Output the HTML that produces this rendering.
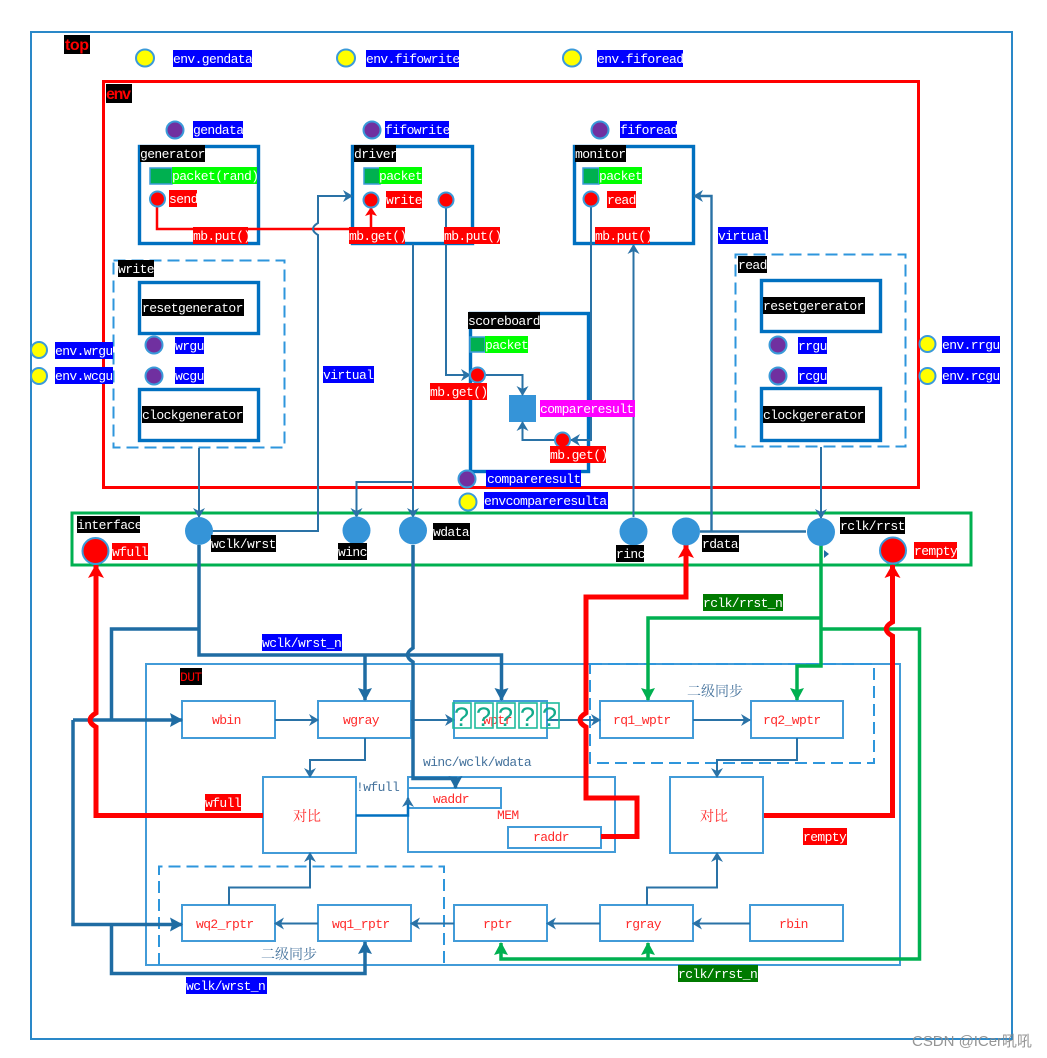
<!DOCTYPE html>
<html>
<head>
<meta charset="utf-8">
<style>
html,body{margin:0;padding:0;background:#fff}
svg{display:block}
text{font-family:"Liberation Mono","Noto Serif CJK SC",monospace;font-size:13px;letter-spacing:-0.6px;white-space:pre}
.cj{font-family:"Liberation Serif","Noto Serif CJK SC",serif;font-size:14px;letter-spacing:0}
.hd{font-family:"Liberation Sans",sans-serif;font-size:16px;font-weight:bold;letter-spacing:0;fill:#ff0000}
.w{fill:#fff}
.r{fill:#ff2a2a}
.s{fill:#44729c}
.bb{fill:#0000ff}.bk{fill:#000}.rd{fill:#ff0000}.gr{fill:#00ff00}.dg{fill:#007a00}.mg{fill:#ff00ff}
.box{fill:#fff;stroke:#0070c0;stroke-width:3.4}
.nb{fill:#fff;stroke:#429bd8;stroke-width:2}
.nf{fill:none;stroke:#429bd8;stroke-width:2}
.ds{fill:none;stroke:#2e96dc;stroke-width:2;stroke-dasharray:12 6}
.ln{fill:none;stroke:#2a72a6;stroke-width:2}
.th{fill:none;stroke:#1f6ca3;stroke-width:3.5}
.rl{fill:none;stroke:#ff0000;stroke-width:5}
.gl{fill:none;stroke:#00b050;stroke-width:3.5}
.pu{fill:#7030a0;stroke:#3a9ad9;stroke-width:2}
.ye{fill:#ffff00;stroke:#3a9ad9;stroke-width:2}
.re{fill:#ff0000;stroke:#3a9ad9;stroke-width:2}
.bu{fill:#3594d8}
.q{fill:none;stroke:#1fbb9c;stroke-width:1.6}
.qt{fill:#12ab8b;font-family:"Liberation Sans",sans-serif;font-size:27px;letter-spacing:0}
</style>
</head>
<body>
<svg width="1047" height="1058" viewBox="0 0 1047 1058" xmlns="http://www.w3.org/2000/svg">
<defs>
<marker id="a" markerUnits="userSpaceOnUse" markerWidth="14" markerHeight="14" refX="10" refY="7" orient="auto"><path d="M1,1 L11,7 L1,13 L4,7Z" fill="#2a72a6"/></marker>
<marker id="A" markerUnits="userSpaceOnUse" markerWidth="16" markerHeight="18" refX="13" refY="9" orient="auto"><path d="M1,2 L14,9 L1,16 L3,9Z" fill="#1f6ca3"/></marker>
<marker id="R" markerUnits="userSpaceOnUse" markerWidth="18" markerHeight="20" refX="14" refY="10" orient="auto"><path d="M1,2 L15,10 L1,18 L4,10Z" fill="#ff0000"/></marker>
<marker id="r" markerUnits="userSpaceOnUse" markerWidth="12" markerHeight="14" refX="9" refY="7" orient="auto"><path d="M1,1 L10,7 L1,13 L3,7Z" fill="#ff0000"/></marker>
<marker id="G" markerUnits="userSpaceOnUse" markerWidth="16" markerHeight="18" refX="13" refY="9" orient="auto"><path d="M1,2 L14,9 L1,16 L3,9Z" fill="#00b050"/></marker>
</defs>
<rect width="1047" height="1058" fill="#fff"/>

<!-- containers -->
<rect x="31" y="32" width="981" height="1007" fill="none" stroke="#2a88c8" stroke-width="2"/>
<rect x="103.500" y="81.500" width="815" height="406" fill="none" stroke="#ff0000" stroke-width="3"/>
<rect x="72" y="513" width="899" height="52" fill="none" stroke="#00b050" stroke-width="3"/>
<rect x="146" y="664" width="754" height="301" class="nf"/>

<!-- env boxes -->
<rect x="139.500" y="146.500" width="119" height="97" class="box"/>
<rect x="352.500" y="146.500" width="120" height="97" class="box"/>
<rect x="574.500" y="146.500" width="119" height="97" class="box"/>
<rect x="113.500" y="260.500" width="171" height="187" class="ds"/>
<rect x="139.500" y="282.500" width="119" height="51" class="box"/>
<rect x="139.500" y="389.500" width="119" height="51" class="box"/>
<rect x="735.500" y="254.500" width="170" height="192" class="ds"/>
<rect x="761.500" y="280.500" width="119" height="51" class="box"/>
<rect x="761.500" y="388.500" width="119" height="52" class="box"/>
<rect x="470.500" y="313.500" width="118" height="158" class="box"/>
<rect x="509" y="395" width="27" height="27" class="bu"/>

<!-- DUT boxes -->
<rect x="590" y="664" width="284" height="99" class="ds"/>
<path d="M159,965 V866.500 H444 V965" class="ds"/>
<rect x="182" y="701" width="93" height="37" class="nb"/>
<rect x="318" y="701" width="93" height="37" class="nb"/>
<rect x="454" y="701" width="93" height="37" class="nb"/>
<rect x="600" y="701" width="93" height="37" class="nb"/>
<rect x="751" y="701" width="92" height="37" class="nb"/>
<rect x="263" y="777" width="93" height="76" class="nb"/>
<rect x="670" y="777" width="93" height="76" class="nb"/>
<rect x="408" y="777" width="207" height="75" class="nb"/>
<rect x="408" y="788" width="93" height="20" class="nb"/>
<rect x="508" y="827" width="93" height="21" class="nb"/>
<rect x="182" y="905" width="93" height="36" class="nb"/>
<rect x="318" y="905" width="93" height="36" class="nb"/>
<rect x="454" y="905" width="93" height="36" class="nb"/>
<rect x="600" y="905" width="93" height="36" class="nb"/>
<rect x="750" y="905" width="93" height="36" class="nb"/>

<!-- env connectors -->
<path d="M157,207 V229 H371 V208" fill="none" stroke="#ff0000" stroke-width="2.500" marker-end="url(#r)"/>
<path d="M199,448 V517" class="ln" marker-end="url(#a)"/>
<path d="M212,531 H318 V235 Q308,229 318,223 V196 H352" class="ln" marker-end="url(#a)"/>
<path d="M413,244 V517" class="ln" marker-end="url(#a)"/>
<path d="M413,482 H356.500 V517" class="ln" marker-end="url(#a)"/>
<path d="M446,207 V375 H470" class="ln" marker-end="url(#a)"/>
<path d="M485,375 H522.500 V395" class="ln" marker-end="url(#a)"/>
<path d="M591,207 V440 H571" class="ln" marker-end="url(#a)"/>
<path d="M555,440 H522.500 V422" class="ln" marker-end="url(#a)"/>
<path d="M633.500,517 V245" class="ln" marker-end="url(#a)"/>
<path d="M700,531.500 H806 M711.500,531.500 V196 H694" class="ln" style="stroke-width:2.400" marker-end="url(#a)"/>
<path d="M821,447 V518" class="ln" marker-end="url(#a)"/>

<!-- DUT connectors -->
<path d="M275,720 H318" class="ln" marker-end="url(#a)"/>
<path d="M411,720 H454" class="ln" marker-end="url(#a)"/>
<path d="M547,720 H600" class="ln" marker-end="url(#a)"/>
<path d="M693,720 H750" class="ln" marker-end="url(#a)"/>
<path d="M365,738 V760 H310 V777" class="ln" marker-end="url(#a)"/>
<path d="M797,738 V760 H717 V777" class="ln" marker-end="url(#a)"/>
<path d="M229,905 V887.500 H310 V853" class="ln" marker-end="url(#a)"/>
<path d="M647,905 V887.500 H717 V853" class="ln" marker-end="url(#a)"/>
<path d="M750,923.500 H693" class="ln" marker-end="url(#a)"/>
<path d="M600,923.500 H547" class="ln" marker-end="url(#a)"/>
<path d="M454,923.500 H411" class="ln" marker-end="url(#a)"/>
<path d="M318,923.500 H275" class="ln" marker-end="url(#a)"/>
<path d="M356,815.500 H408 V798" fill="none" stroke="#0070c0" stroke-width="2.500" marker-end="url(#a)"/>

<path d="M199,545 V655 H501.500 V700" class="th" marker-end="url(#A)"/>
<path d="M365,655 V700" class="th" marker-end="url(#A)"/>
<path d="M199,629 H111.500 V720" class="th"/>
<path d="M73,720 H182" class="th" marker-end="url(#A)"/>
<path d="M73,720 V924.500 H182" class="th" marker-end="url(#A)"/>
<path d="M111.500,924.500 V973.500 H365 V942" class="th" marker-end="url(#A)"/>
<path d="M413,545 V648 Q402,655 413,662 V778.500 H455.500 V788" class="th" marker-end="url(#A)"/>

<path d="M821,545 V666 H797 V700" class="gl" marker-end="url(#G)"/>
<path d="M821,618 H648 V700" class="gl" marker-end="url(#G)"/>
<path d="M821,629 H919.500 V959 H501 V943" class="gl" marker-end="url(#G)"/>
<path d="M648,959 V943" class="gl" marker-end="url(#G)"/>

<path d="M263,815.500 H96 V727 Q84,720 96,713 V565" class="rl" marker-end="url(#R)"/>
<path d="M601,836.500 H637 V798 H586 V727 Q574,720 586,713 V597 H686 V545" class="rl" marker-end="url(#R)"/>
<path d="M764,815.500 H892.500 V636 Q880,629 892.500,622 V565" class="rl" marker-end="url(#R)"/>
<path d="M824,550 L829,554 L824,558Z" fill="#1f6ca3"/>

<!-- circles -->
<ellipse cx="145" cy="58" rx="9" ry="8.500" class="ye"/>
<ellipse cx="346" cy="58" rx="9" ry="8.500" class="ye"/>
<ellipse cx="572" cy="58" rx="9" ry="8.500" class="ye"/>
<circle cx="175" cy="130" r="8.500" class="pu"/>
<circle cx="372" cy="130" r="8.500" class="pu"/>
<circle cx="600" cy="130" r="8.500" class="pu"/>
<circle cx="157.500" cy="199" r="7.500" class="re"/>
<circle cx="371" cy="200" r="7.500" class="re"/>
<circle cx="446" cy="200" r="7.500" class="re"/>
<circle cx="591" cy="199" r="7.500" class="re"/>
<circle cx="154" cy="345" r="8.500" class="pu"/>
<circle cx="154" cy="376" r="8.500" class="pu"/>
<circle cx="39" cy="350" r="8" class="ye"/>
<circle cx="39" cy="376" r="8" class="ye"/>
<circle cx="778" cy="345" r="8.500" class="pu"/>
<circle cx="778" cy="376" r="8.500" class="pu"/>
<circle cx="927.500" cy="344" r="8" class="ye"/>
<circle cx="927.500" cy="376" r="8" class="ye"/>
<circle cx="477.500" cy="375" r="7.500" class="re"/>
<circle cx="562.500" cy="440" r="7.500" class="re"/>
<circle cx="467" cy="479" r="8.500" class="pu"/>
<circle cx="468" cy="502" r="8.500" class="ye"/>
<circle cx="199" cy="531" r="14" class="bu"/>
<circle cx="356.500" cy="530.500" r="14" class="bu"/>
<circle cx="413" cy="530.500" r="14" class="bu"/>
<circle cx="633.500" cy="531.500" r="14" class="bu"/>
<circle cx="686" cy="531.500" r="14" class="bu"/>
<circle cx="821" cy="532" r="14" class="bu"/>
<circle cx="95.500" cy="551" r="13" class="re"/>
<circle cx="893" cy="550.500" r="13" class="re"/>

<!-- packet squares -->
<rect x="150" y="168" width="22" height="16" fill="#00b050" stroke="#3a9ad9" stroke-width="1.500"/>
<rect x="364" y="168" width="16" height="16" fill="#00b050" stroke="#3a9ad9" stroke-width="1.500"/>
<rect x="583" y="168" width="16" height="16" fill="#00b050" stroke="#3a9ad9" stroke-width="1.500"/>
<rect x="470" y="337" width="15" height="15" fill="#00b050" stroke="#3a9ad9" stroke-width="1.500"/>

<!-- labels -->
<rect x="64" y="35" width="26" height="19" class="bk"/><text class="hd" x="65" y="50" textLength="24">top</text>
<rect x="106" y="84" width="26" height="19" class="bk"/><text class="hd" x="106" y="99" textLength="25">env</text>

<rect x="173" y="50" width="79" height="17" class="bb"/><text class="w" x="173" y="63">env.gendata</text>
<rect x="366" y="50" width="93" height="17" class="bb"/><text class="w" x="366" y="63">env.fifowrite</text>
<rect x="597" y="50" width="86" height="17" class="bb"/><text class="w" x="597" y="63">env.fiforead</text>
<rect x="193" y="121" width="50" height="17" class="bb"/><text class="w" x="193" y="134">gendata</text>
<rect x="385" y="121" width="64" height="17" class="bb"/><text class="w" x="385" y="134">fifowrite</text>
<rect x="620" y="121" width="57" height="17" class="bb"/><text class="w" x="620" y="134">fiforead</text>

<rect x="140" y="145" width="65" height="17" class="bk"/><text class="w" x="140" y="158">generator</text>
<rect x="354" y="145" width="42" height="17" class="bk"/><text class="w" x="354" y="158">driver</text>
<rect x="575" y="145" width="51" height="17" class="bk"/><text class="w" x="575" y="158">monitor</text>

<rect x="172" y="167" width="85" height="17" class="gr"/><text class="w" x="172" y="180">packet(rand)</text>
<rect x="379" y="167" width="43" height="17" class="gr"/><text class="w" x="379" y="180">packet</text>
<rect x="599" y="167" width="43" height="17" class="gr"/><text class="w" x="599" y="180">packet</text>
<rect x="485" y="336" width="43" height="17" class="gr"/><text class="w" x="485" y="349">packet</text>

<rect x="169" y="190" width="28" height="17" class="rd"/><text class="w" x="169" y="203">send</text>
<rect x="386" y="191" width="36" height="17" class="rd"/><text class="w" x="386" y="204">write</text>
<rect x="607" y="191" width="29" height="17" class="rd"/><text class="w" x="607" y="204">read</text>

<rect x="193" y="227" width="55" height="17" class="rd"/><text class="w" x="193" y="240">mb.put()</text>
<rect x="349" y="227" width="56" height="17" class="rd"/><text class="w" x="349" y="240">mb.get()</text>
<rect x="444" y="227" width="56" height="17" class="rd"/><text class="w" x="444" y="240">mb.put()</text>
<rect x="595" y="227" width="55" height="17" class="rd"/><text class="w" x="595" y="240">mb.put()</text>
<rect x="430" y="383" width="57" height="17" class="rd"/><text class="w" x="430" y="396">mb.get()</text>
<rect x="550" y="446" width="56" height="17" class="rd"/><text class="w" x="550" y="459">mb.get()</text>

<rect x="718" y="227" width="50" height="17" class="bb"/><text class="w" x="718" y="240">virtual</text>
<rect x="323" y="366" width="51" height="17" class="bb"/><text class="w" x="323" y="379">virtual</text>

<rect x="118" y="260" width="36" height="17" class="bk"/><text class="w" x="118" y="273">write</text>
<rect x="738" y="256" width="29" height="17" class="bk"/><text class="w" x="738" y="269">read</text>
<rect x="142" y="299" width="102" height="17" class="bk"/><text class="w" x="142" y="312">resetgenerator</text>
<rect x="142" y="406" width="101" height="17" class="bk"/><text class="w" x="142" y="419">clockgenerator</text>
<rect x="763" y="297" width="102" height="17" class="bk"/><text class="w" x="763" y="310">resetgererator</text>
<rect x="763" y="406" width="102" height="17" class="bk"/><text class="w" x="763" y="419">clockgererator</text>

<rect x="175" y="337" width="29" height="17" class="bb"/><text class="w" x="175" y="350">wrgu</text>
<rect x="175" y="367" width="29" height="17" class="bb"/><text class="w" x="175" y="380">wcgu</text>
<rect x="798" y="337" width="29" height="17" class="bb"/><text class="w" x="798" y="350">rrgu</text>
<rect x="798" y="367" width="29" height="17" class="bb"/><text class="w" x="798" y="380">rcgu</text>
<rect x="55" y="342" width="58" height="17" class="bb"/><text class="w" x="55" y="355">env.wrgu</text>
<rect x="55" y="367" width="58" height="17" class="bb"/><text class="w" x="55" y="380">env.wcgu</text>
<rect x="942" y="336" width="58" height="17" class="bb"/><text class="w" x="942" y="349">env.rrgu</text>
<rect x="942" y="367" width="58" height="17" class="bb"/><text class="w" x="942" y="380">env.rcgu</text>

<rect x="468" y="312" width="72" height="17" class="bk"/><text class="w" x="468" y="325">scoreboard</text>
<rect x="540" y="400" width="95" height="17" class="mg"/><text class="w" x="540" y="413">compareresult</text>
<rect x="486" y="470" width="95" height="17" class="bb"/><text class="w" x="487" y="483">compareresult</text>
<rect x="484" y="492" width="124" height="17" class="bb"/><text class="w" x="484" y="505">envcompareresulta</text>

<rect x="77" y="516" width="63" height="17" class="bk"/><text class="w" x="77" y="529">interface</text>
<rect x="112" y="543" width="36" height="17" class="rd"/><text class="w" x="112" y="556">wfull</text>
<rect x="211" y="535" width="65" height="17" class="bk"/><text class="w" x="211" y="548">wclk/wrst</text>
<rect x="338" y="543" width="29" height="17" class="bk"/><text class="w" x="338" y="556">winc</text>
<rect x="433" y="523" width="37" height="17" class="bk"/><text class="w" x="433" y="536">wdata</text>
<rect x="616" y="545" width="28" height="17" class="bk"/><text class="w" x="616" y="558">rinc</text>
<rect x="702" y="535" width="37" height="17" class="bk"/><text class="w" x="702" y="548">rdata</text>
<rect x="840" y="517" width="65" height="17" class="bk"/><text class="w" x="840" y="530">rclk/rrst</text>
<rect x="914" y="542" width="43" height="17" class="rd"/><text class="w" x="914" y="555">rempty</text>

<rect x="262" y="634" width="80" height="17" class="bb"/><text class="w" x="262" y="647">wclk/wrst_n</text>
<rect x="186" y="977" width="81" height="17" class="bb"/><text class="w" x="186" y="990">wclk/wrst_n</text>
<rect x="703" y="594" width="80" height="17" class="dg"/><text class="w" x="703" y="607">rclk/rrst_n</text>
<rect x="678" y="965" width="80" height="17" class="dg"/><text class="w" x="678" y="978">rclk/rrst_n</text>
<rect x="180" y="668" width="22" height="17" class="bk"/><text x="180" y="681" fill="#ff0000">DUT</text>
<rect x="205" y="794" width="36" height="17" class="rd"/><text class="w" x="205" y="807">wfull</text>
<rect x="803" y="828" width="44" height="17" class="rd"/><text class="w" x="803" y="841">rempty</text>

<!-- node text -->
<text class="r" x="212" y="724">wbin</text>
<text class="r" x="343" y="724">wgray</text>
<text class="r" x="483" y="724">wptr</text>
<text class="r" x="613" y="724">rq1_wptr</text>
<text class="r" x="763" y="724">rq2_wptr</text>
<text class="r cj" x="293" y="821">对比</text>
<text class="r cj" x="700" y="821">对比</text>
<text class="r" x="433" y="803">waddr</text>
<text class="r" x="497" y="819">MEM</text>
<text class="r" x="533" y="841">raddr</text>
<text class="r" x="196" y="928">wq2_rptr</text>
<text class="r" x="332" y="928">wq1_rptr</text>
<text class="r" x="483" y="928">rptr</text>
<text class="r" x="625" y="928">rgray</text>
<text class="r" x="779" y="928">rbin</text>
<text class="s" x="356" y="791">!wfull</text>
<text class="s" x="423" y="766">winc/wclk/wdata</text>
<text class="s cj" x="687" y="696">二级同步</text>
<text class="s cj" x="261" y="959">二级同步</text>

<!-- tofu boxes -->
<rect x="453" y="703" width="18" height="25" class="q"/><text class="qt" x="454" y="726">?</text>
<rect x="475" y="703" width="18" height="25" class="q"/><text class="qt" x="476" y="726">?</text>
<rect x="497" y="703" width="18" height="25" class="q"/><text class="qt" x="498" y="726">?</text>
<rect x="519" y="703" width="18" height="25" class="q"/><text class="qt" x="520" y="726">?</text>
<rect x="541" y="703" width="18" height="25" class="q"/><text class="qt" x="542" y="726">?</text>

<!-- watermark -->
<text x="912" y="1046" fill="#8a8a8a" fill-opacity="0.9" style="font-family:'Liberation Sans','Noto Sans CJK SC',sans-serif;font-size:15px;letter-spacing:0" textLength="120">CSDN @ICer吼吼</text>
</svg>
</body>
</html>
